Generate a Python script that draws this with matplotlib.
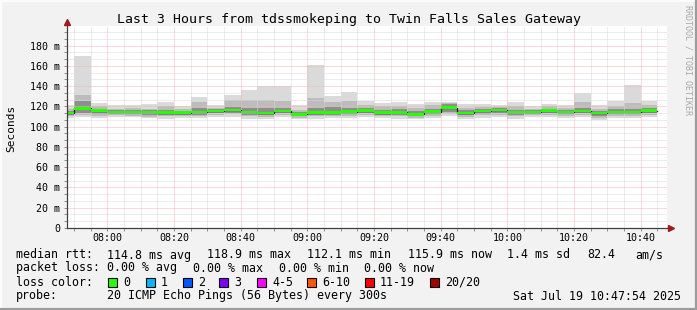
"""Smokeping-style latency graph: last 3 hours, tdssmokeping -> Twin Falls Sales Gateway."""

import matplotlib
matplotlib.use('Agg')
import matplotlib.pyplot as plt
import matplotlib.dates as mdates
from matplotlib.lines import Line2D
from matplotlib.patches import Rectangle
from matplotlib.ticker import MultipleLocator, FuncFormatter
import pandas as pd

W, H = 697, 310
DAY = '2025-07-19 '
MONO = 'DejaVu Sans Mono'

# 5-minute slots (start time of each step)
slot_start = ['07:45', '07:50', '07:55', '08:00', '08:05', '08:10', '08:15', '08:20', '08:25',
              '08:30', '08:35', '08:40', '08:45', '08:50', '08:55', '09:00', '09:05', '09:10',
              '09:15', '09:20', '09:25', '09:30', '09:35', '09:40', '09:45', '09:50', '09:55',
              '10:00', '10:05', '10:10', '10:15', '10:20', '10:25', '10:30', '10:35', '10:40']

# rtt in ms
rtt_median = [113.4, 118.2, 116.0, 114.7, 114.7, 114.5, 114.0, 114.0, 114.6, 115.7, 116.4, 114.7,
              113.4, 115.7, 112.1, 114.0, 114.3, 115.0, 116.0, 114.0, 114.3, 112.4, 115.0, 118.9,
              113.4, 115.4, 116.7, 114.7, 114.7, 116.0, 114.7, 115.7, 113.4, 114.7, 114.7, 115.9]
rtt_max = [121.5, 170.0, 123.0, 121.5, 121.5, 122.0, 124.5, 120.0, 129.0, 121.5, 131.0, 136.5,
           140.5, 140.0, 121.5, 161.0, 130.5, 134.0, 125.5, 123.5, 124.5, 122.5, 124.5, 124.5,
           122.5, 122.5, 121.5, 124.5, 120.5, 122.5, 121.5, 133.0, 121.5, 125.5, 141.5, 125.5]
rtt_p90 = [118.0, 131.0, 120.0, 118.0, 118.5, 118.0, 120.0, 117.5, 124.0, 119.0, 126.0, 126.0,
           126.0, 125.5, 117.0, 128.0, 124.0, 125.0, 121.0, 120.0, 120.5, 119.0, 121.5, 123.0,
           119.0, 119.5, 119.5, 120.5, 118.0, 120.0, 119.0, 124.5, 118.0, 120.5, 123.0, 121.0]
rtt_p75 = [116.0, 125.0, 118.0, 116.5, 116.5, 116.5, 117.0, 116.0, 119.0, 117.5, 119.5, 119.0,
           118.5, 119.0, 115.0, 119.0, 119.5, 118.5, 118.5, 117.0, 117.5, 115.5, 118.0, 122.0,
           116.5, 117.5, 118.5, 117.0, 116.5, 118.0, 117.0, 119.0, 116.0, 117.5, 118.0, 118.5]
rtt_p25 = [111.5, 114.0, 113.0, 113.0, 112.5, 111.5, 112.0, 112.0, 112.0, 113.5, 114.0, 112.0,
           111.5, 113.5, 110.5, 112.0, 112.0, 112.5, 113.5, 112.0, 112.0, 110.5, 112.5, 114.5,
           111.5, 113.0, 113.5, 112.0, 113.0, 113.5, 112.5, 113.5, 110.5, 112.5, 112.5, 113.5]
rtt_p10 = [110.5, 112.0, 111.0, 112.0, 111.0, 110.0, 110.5, 110.5, 110.5, 112.0, 112.5, 110.5,
           110.0, 112.0, 109.0, 110.5, 110.5, 111.0, 112.0, 110.5, 110.5, 109.0, 111.0, 112.5,
           110.0, 111.5, 112.0, 110.5, 111.5, 112.0, 111.0, 112.0, 109.0, 111.0, 111.0, 112.0]
rtt_min = [108.5, 110.0, 108.5, 109.5, 110.0, 108.5, 108.0, 108.5, 108.5, 109.5, 110.0, 108.0,
           107.5, 109.5, 107.5, 108.0, 108.5, 108.5, 109.5, 108.5, 108.0, 107.5, 109.0, 110.5,
           108.0, 109.0, 110.0, 108.0, 109.5, 109.5, 109.0, 109.5, 107.0, 109.0, 109.0, 109.5]

loss_labels = ['0', '1', '2', '3', '4-5', '6-10', '11-19', '20/20']
loss_colors = ['#26ff00', '#00b8ff', '#0059ff', '#7e00ff', '#ff00ff', '#ff5500', '#ff0000', '#a10000']

stats_rtt = ['114.8 ms avg', '118.9 ms max', '112.1 ms min', '115.9 ms now', '1.4 ms sd', '82.4', 'am/s']
stats_loss = ['0.00 % avg', '0.00 % max', '0.00 % min', '0.00 % now']

t_start, t_end = DAY + '07:47:54', DAY + '10:47:54'


def px(x, y):
    return x / W, 1 - y / H


fig = plt.figure(figsize=(W / 100, H / 100), dpi=100, facecolor='#f2f2f2')

# plot area: x 67..667, y 26..228 (pixels)
ax = fig.add_axes([67 / W, (H - 228) / H, 600 / W, 202 / H])
ax.set_facecolor('white')

xs = mdates.date2num(pd.to_datetime([DAY + s for s in slot_start]))
step = 5 / 1440.0

# smoke layers, outside in
layers = [(rtt_min, rtt_max, '#dadada'),
          (rtt_p10, rtt_p90, '#bcbcbc'),
          (rtt_p25, rtt_p75, '#8e8e8e')]
for lo, hi, col in layers:
    ax.bar(xs, [h - l for l, h in zip(lo, hi)], bottom=lo, width=step, align='edge',
           color=col, linewidth=0, zorder=1)

# median: thin dark step line, then loss-coloured band
ax.step(list(xs) + [xs[-1] + step], rtt_median + [rtt_median[-1]], where='post',
        color='#202020', linewidth=0.9, zorder=3)
ax.bar(xs, 2.6, bottom=[m - 1.3 for m in rtt_median], width=step, align='edge',
       color=loss_colors[0], linewidth=0, zorder=4)

ax.set_xlim(mdates.date2num(pd.Timestamp(t_start)), mdates.date2num(pd.Timestamp(t_end)))
ax.set_ylim(0, 199.5)

ax.xaxis.set_major_locator(mdates.MinuteLocator(byminute=[0, 20, 40]))
ax.xaxis.set_minor_locator(mdates.MinuteLocator(byminute=range(0, 60, 5)))
ax.xaxis.set_major_formatter(mdates.DateFormatter('%H:%M'))
ax.yaxis.set_major_locator(MultipleLocator(20))
ax.yaxis.set_minor_locator(MultipleLocator(20 / 3))
ax.yaxis.set_major_formatter(FuncFormatter(lambda v, p: '0' if v == 0 else f'{v:.0f} m'))

# 1px on / 1px off dots (dash lengths scale with the 0.72pt linewidth)
dots = (0, (1, 1))
ax.set_axisbelow(False)
ax.grid(True, which='minor', color='#dadada', linestyle=dots, linewidth=0.72)
ax.grid(True, which='major', color='#f4b4b4', linestyle=dots, linewidth=0.72)

for s in ax.spines.values():
    s.set_visible(False)
ax.tick_params(which='both', length=2, width=0.7, color='#909090', direction='out')
ax.tick_params(axis='y', which='major', labelsize=7.2, pad=3)
ax.tick_params(axis='x', which='major', labelsize=7.2, pad=1.5)
for lab in ax.get_xticklabels() + ax.get_yticklabels():
    lab.set_family(MONO)

# axes with arrows
ax.add_line(Line2D([0, 0], [0, 1.012], transform=ax.transAxes, color='#404040',
                   linewidth=0.9, clip_on=False, zorder=6))
ax.add_line(Line2D([0, 1.004], [0, 0], transform=ax.transAxes, color='#404040',
                   linewidth=0.9, clip_on=False, zorder=6))
ax.plot([0], [1.02], marker='^', markersize=5, color='#9e1c1c', transform=ax.transAxes,
        clip_on=False, zorder=7)
ax.plot([1.007], [0], marker='>', markersize=5, color='#9e1c1c', transform=ax.transAxes,
        clip_on=False, zorder=7)

# title, y label, watermark
fig.text(*px(349, 19), 'Last 3 Hours from tdssmokeping to Twin Falls Sales Gateway',
         ha='center', va='center', fontsize=9.5, family=MONO)
fig.text(*px(11, 128), 'Seconds', rotation=90, ha='center', va='center', fontsize=8, family=MONO)
fig.text(*px(688, 5), 'RRDTOOL / TOBI OETIKER', rotation=270, ha='center', va='top',
         fontsize=6, family=MONO, color='#a8a8a8')

# legend block
fs = 8.4
fig.text(*px(16, 255), 'median rtt:', va='center', fontsize=fs, family=MONO)
for x, s in zip([107, 207, 307, 408, 507, 587, 635], stats_rtt):
    fig.text(*px(x, 255), s, va='center', fontsize=fs, family=MONO)

fig.text(*px(16, 268), 'packet loss:', va='center', fontsize=fs, family=MONO)
for x, s in zip([107, 193, 279, 364], stats_loss):
    fig.text(*px(x, 268), s, va='center', fontsize=fs, family=MONO)

fig.text(*px(16, 282), 'loss color:', va='center', fontsize=fs, family=MONO)
for x, lab, col in zip([108, 146, 183, 219, 257, 307, 365, 430], loss_labels, loss_colors):
    fig.patches.append(Rectangle(px(x, 287), 9 / W, 9 / H, transform=fig.transFigure,
                                 facecolor=col, edgecolor='black', linewidth=0.8))
    fig.text(*px(x + 15, 282), lab, va='center', fontsize=fs, family=MONO)

fig.text(*px(16, 296), 'probe:', va='center', fontsize=fs, family=MONO)
fig.text(*px(107, 296), '20 ICMP Echo Pings (56 Bytes) every 300s', va='center',
         fontsize=fs, family=MONO)
fig.text(*px(513, 296), 'Sat Jul 19 10:47:54 2025', va='center', fontsize=fs, family=MONO)

# 3d-ish canvas border
for (x0, y0, x1, y1), col in [((0, 1, 697, 1), '#fcfcfc'), ((1, 0, 1, 310), '#fcfcfc'),
                              ((0, 308.5, 697, 308.5), '#9c9c9c'),
                              ((695.5, 0, 695.5, 310), '#9c9c9c')]:
    fig.lines.append(Line2D([x0 / W, x1 / W], [1 - y0 / H, 1 - y1 / H], transform=fig.transFigure,
                            color=col, linewidth=1.6))

fig.savefig('out.png', dpi=100, facecolor=fig.get_facecolor())
